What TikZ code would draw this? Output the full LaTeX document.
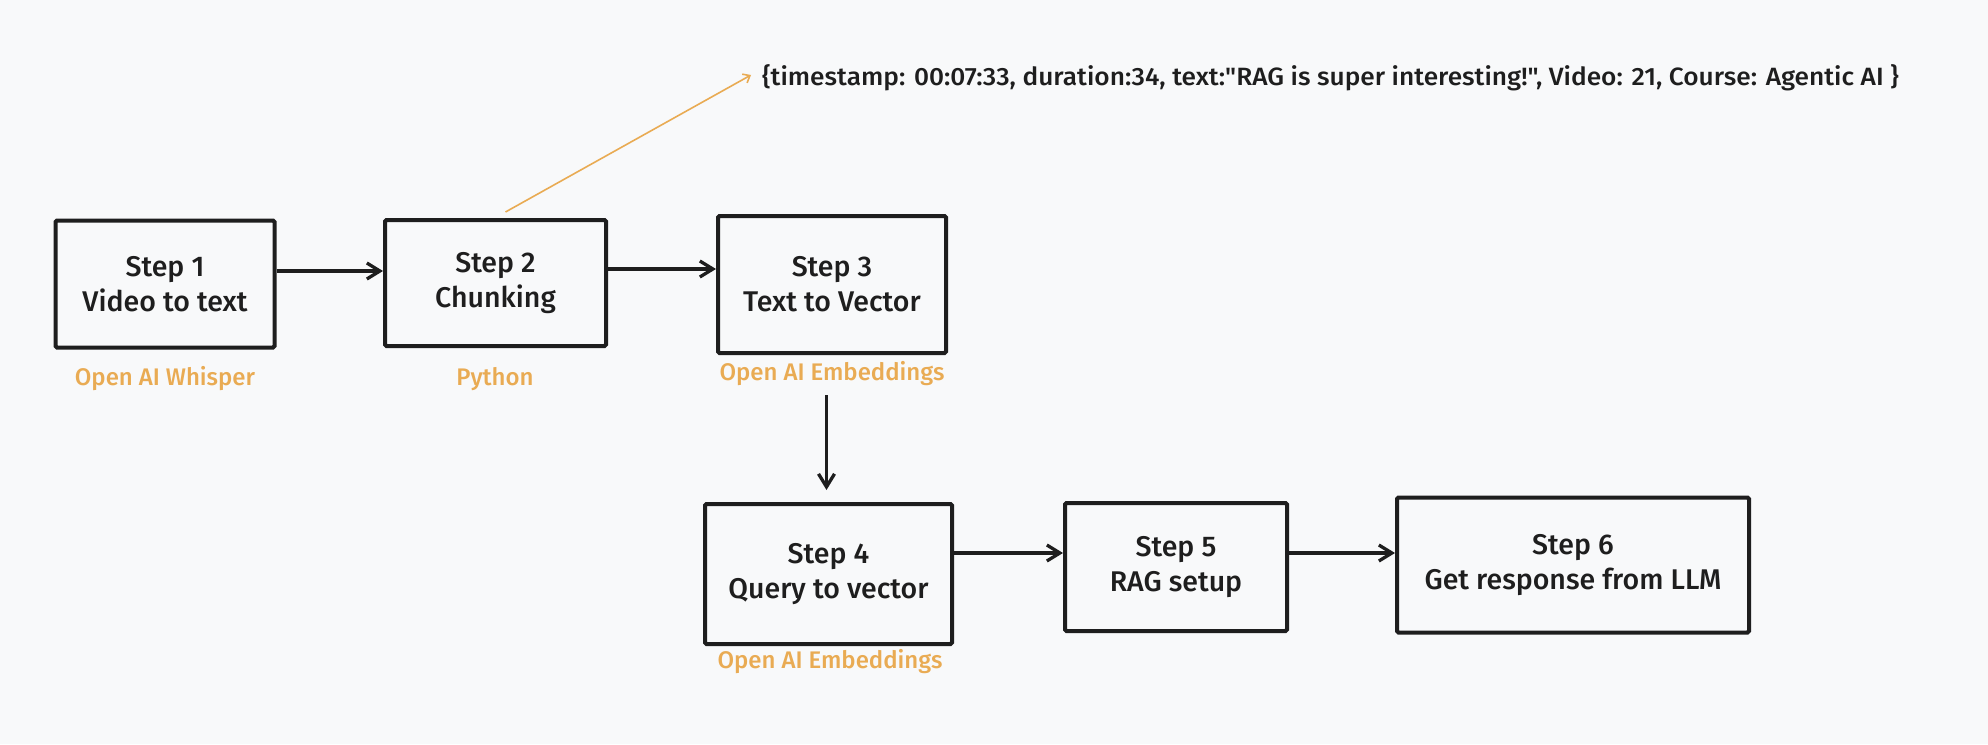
\documentclass[tikz,border=0pt]{standalone}
\usepackage{fontspec}
\setmainfont{Fira Sans}
\newfontfamily\boxfont{Fira Sans Medium}
\newfontfamily\jsfont{Fira Sans Medium}
\usetikzlibrary{arrows.meta,calc}
\definecolor{ink}{HTML}{1E1E1E}
\definecolor{orng}{HTML}{E9AB53}
\definecolor{bg}{HTML}{F8F9FA}
\begin{document}
\begin{tikzpicture}[x=1pt,y=-1pt,
  stepbox/.style={draw=ink, line width=4pt, rounded corners=1.5pt, align=center,
    text=ink, font=\boxfont\fontsize{28.5}{35}\selectfont, inner sep=0pt},
  tool/.style={text=orng, font=\boxfont\fontsize{24}{27}\selectfont, inner sep=0pt},
  arr/.style={draw=ink, line width=3.3pt, -{Straight Barb[length=13pt,width=16pt,line width=3.3pt]}},
  oarr/.style={draw=orng, line width=1.6pt, -{Straight Barb[length=6pt,width=10pt,line width=1.6pt]}}]
\fill[bg] (0,0) rectangle (1988,744);
\useasboundingbox (0,0) rectangle (1988,744);

\node[stepbox, minimum width=219pt, minimum height=127pt] (b1) at (165,284) {Step 1\\Video to text};
\node[stepbox, minimum width=221pt, minimum height=126pt] (b2) at (495.5,283) {Step 2\\Chunking};
\node[stepbox, minimum width=228pt, minimum height=137pt] (b3) at (832,284.5) {Step 3\\Text to Vector};
\node[stepbox, minimum width=247pt, minimum height=140pt] (b4) at (828.5,574) {Step 4\\Query to vector};
\node[stepbox, minimum width=222pt, minimum height=128pt] (b5) at (1176,567) {Step 5\\RAG setup};
\node[stepbox, minimum width=352pt, minimum height=135pt] (b6) at (1573,565) {Step 6\\Get response from LLM};

\node[tool] (t1) at (165,379) {Open AI Whisper};
\node[tool] (t2) at (495,379) {Python};
\node[tool] (t3) at (832,374) {Open AI Embeddings};
\node[tool] (t4) at (830,662) {Open AI Embeddings};

\node[anchor=west, inner sep=0pt, text=ink, font=\jsfont\fontsize{25}{28}\selectfont] (js) at (762,78)
  {\scalebox{1.05}[1]{\{timestamp: 00:07:33, duration:34, text:"RAG is super interesting!", Video: 21, Course: Agentic AI \}}};

\draw[arr] ([yshift=13pt]b1.east) -- ([yshift=12pt]b2.west);
\draw[arr] ([yshift=14pt]b2.east) -- ([yshift=15.5pt]b3.west);
\draw[arr] ($(t3.south -| b4.north)+(-2,9)$) -- ($(b4.north)+(-2,-12)$);
\draw[arr] ([yshift=21pt]b4.east) -- ([yshift=14pt]b5.west);
\draw[arr] ([yshift=14pt]b5.east) -- ([yshift=12pt]b6.west);
\draw[oarr] ($(b2.north)+(10,-6)$) -- ($(js.west)+(-11,-3)$);
\end{tikzpicture}
\end{document}
